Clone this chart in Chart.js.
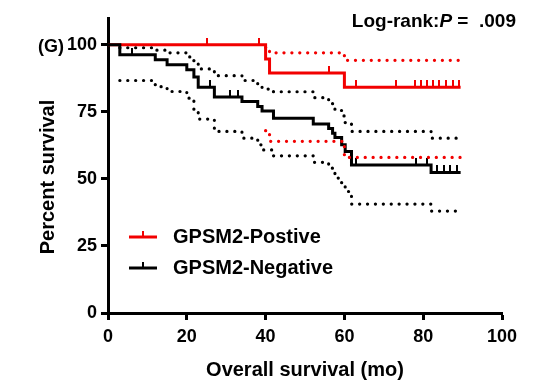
<!DOCTYPE html>
<html>
<head>
<meta charset="utf-8">
<script src="https://cdn.jsdelivr.net/npm/chart.js@4.4.1/dist/chart.umd.min.js"></script>
<style>
  html, body { margin: 0; padding: 0; background: #fff; }
  #wrap { position: relative; width: 550px; height: 388px; }
</style>
</head>
<body>
<div id="wrap"><canvas id="kmChart" width="550" height="388"></canvas></div>
<script>
// Kaplan-Meier data (months, percent survival)
const posTimes = [0, 40, 41, 60, 89.5];
const posSurv  = [100, 94.7, 89.5, 84.2, 84.2];
const posCITimes = [40, 41, 60, 89.5];
const posUpper = [99, 97, 94.2, 94.2];
const posLower = [68, 64, 58, 58];
const posCensor = [25, 38.2, 56, 63, 73, 78, 79.5, 81, 82.5, 84, 85.8, 87.5, 89.2];

const negTimes = [0, 3, 12, 15, 20, 21.8, 22.9, 27, 34, 38, 39.1, 42, 52.1, 56, 57, 57.6, 59.3, 60.2, 61.8, 82, 89.5];
const negSurv  = [100, 96.3, 94.4, 92.6, 90.7, 88, 84.2, 80.5, 78.9, 77, 75.3, 72.6, 70.5, 68.8, 67, 65.4, 62.7, 60.2, 55.2, 52.4, 52.4];
const negCITimes = [3, 12, 15, 20, 21.8, 22.9, 27, 34, 38, 39.1, 42, 52.1, 56, 57, 57.6, 59.3, 60.2, 61.8, 82, 89.5];
const negUpper = [98.9, 98, 97, 95.5, 93.3, 91, 88.5, 86.7, 84.5, 83.5, 82.5, 80.3, 78.5, 77, 75.5, 73.5, 71, 67.7, 65.2, 65.2];
const negLower = [86.7, 84.4, 82.6, 80.1, 75.7, 72.3, 67.7, 65.2, 62.7, 60.8, 58.6, 56.2, 54, 52.1, 50.3, 48, 45.3, 40.6, 38, 38];
const negCensor = [6, 26, 31, 33, 63, 78.2, 81, 83.5, 85.2, 86.9, 88.6];

const xTicks = [0, 20, 40, 60, 80, 100];
const yTicks = [0, 25, 50, 75, 100];

const RED = '#f20000';
const BLACK = '#000000';
const FONT = 'Arial, "Liberation Sans", sans-serif';

function pts(xs, ys) { return xs.map((x, i) => ({ x: x, y: ys[i] })); }
function survAt(xs, ys, t) {
  let v = ys[0];
  for (let i = 0; i < xs.length; i++) if (xs[i] <= t) v = ys[i];
  return v;
}
// censor tick: short vertical line sitting on top of the curve
function tickMark(color) {
  const c = document.createElement('canvas');
  c.width = 2; c.height = 14;
  const g = c.getContext('2d');
  g.fillStyle = color;
  g.fillRect(0, 0, 2, 7);
  return c;
}

function stepLine(label, xs, ys, color, width) {
  return { label: label, data: pts(xs, ys), borderColor: color, borderWidth: width,
    stepped: true, pointRadius: 0, fill: false };
}
function ciLine(xs, ys, color) {
  return { label: '', data: pts(xs, ys), borderColor: color, borderWidth: 3.2,
    borderDash: [0.1, 7.8], borderCapStyle: 'round', stepped: true, pointRadius: 0, fill: false };
}
function censorSet(times, xs, ys, color) {
  return { type: 'scatter', label: '', data: times.map(t => ({ x: t, y: survAt(xs, ys, t) })),
    pointStyle: tickMark(color), pointRadius: 4, borderColor: color, backgroundColor: color };
}

const extraText = {
  id: 'extraText',
  afterDraw(chart) {
    const ctx = chart.ctx;
    ctx.save();
    ctx.fillStyle = '#000';
    ctx.textBaseline = 'middle';
    ctx.font = 'bold 18px ' + FONT;
    ctx.fillText('(G)', 38, 47);

    // y axis title
    ctx.save();
    ctx.translate(48, 177);
    ctx.rotate(-Math.PI / 2);
    ctx.textAlign = 'center';
    ctx.font = 'bold 20px ' + FONT;
    ctx.fillText('Percent survival', 0, 0);
    ctx.restore();

    // Log-rank label, right aligned
    const parts = [['Log-rank:', 'bold 19px '], ['P', 'italic bold 19px '], [' =  .009', 'bold 19px ']];
    let w = 0;
    parts.forEach(p => { ctx.font = p[1] + FONT; w += ctx.measureText(p[0]).width; });
    let x = 516 - w;
    parts.forEach(p => { ctx.font = p[1] + FONT; ctx.fillText(p[0], x, 22); x += ctx.measureText(p[0]).width; });

    // legend
    const items = [['GPSM2-Postive', RED, 237], ['GPSM2-Negative', BLACK, 268]];
    items.forEach(it => {
      ctx.strokeStyle = it[1];
      ctx.lineWidth = 3;
      ctx.beginPath();
      ctx.moveTo(129, it[2]); ctx.lineTo(157, it[2]);
      ctx.stroke();
      ctx.lineWidth = 2;
      ctx.beginPath();
      ctx.moveTo(143, it[2]); ctx.lineTo(143, it[2] - 6);
      ctx.stroke();
      ctx.fillStyle = '#000';
      ctx.font = 'bold 20px ' + FONT;
      ctx.fillText(it[0], 173, it[2]);
    });
    ctx.restore();
  }
};

const ctx = document.getElementById('kmChart').getContext('2d');
const kmChart = new Chart(ctx, {
  type: 'line',
  data: {
    datasets: [
      ciLine(posCITimes, posUpper, RED),
      ciLine(posCITimes, posLower, RED),
      ciLine(negCITimes, negUpper, BLACK),
      ciLine(negCITimes, negLower, BLACK),
      stepLine('GPSM2-Negative', negTimes, negSurv, BLACK, 3),
      stepLine('GPSM2-Postive', posTimes, posSurv, RED, 3),
      censorSet(negCensor, negTimes, negSurv, BLACK),
      censorSet(posCensor, posTimes, posSurv, RED)
    ]
  },
  options: {
    responsive: false,
    animation: false,
    layout: { padding: { left: 0, top: 18, right: 48, bottom: 0 } },
    plugins: { legend: { display: false }, tooltip: { enabled: false } },
    scales: {
      x: {
        type: 'linear', min: 0, max: 100,
        afterBuildTicks: s => { s.ticks = xTicks.map(v => ({ value: v })); },
        afterFit: s => { s.height = 75; },
        grid: { drawOnChartArea: false, tickLength: 7, tickWidth: 3, tickColor: '#000' },
        border: { width: 3, color: '#000' },
        ticks: { color: '#000', font: { family: FONT, size: 18, weight: 'bold' }, padding: 6, maxRotation: 0 },
        title: { display: true, text: 'Overall survival (mo)', color: '#000',
          font: { family: FONT, size: 20, weight: 'bold' }, padding: { bottom: 6 } }
      },
      y: {
        type: 'linear', min: 0, max: 110,
        afterBuildTicks: s => { s.ticks = yTicks.map(v => ({ value: v })); },
        afterFit: s => { s.width = 108; },
        grid: { drawOnChartArea: false, tickLength: 7, tickWidth: 3, tickColor: '#000' },
        border: { width: 3, color: '#000' },
        ticks: { color: '#000', font: { family: FONT, size: 18, weight: 'bold' }, padding: 4 },
        title: { display: false }
      }
    }
  },
  plugins: [extraText]
});
</script>
</body>
</html>
